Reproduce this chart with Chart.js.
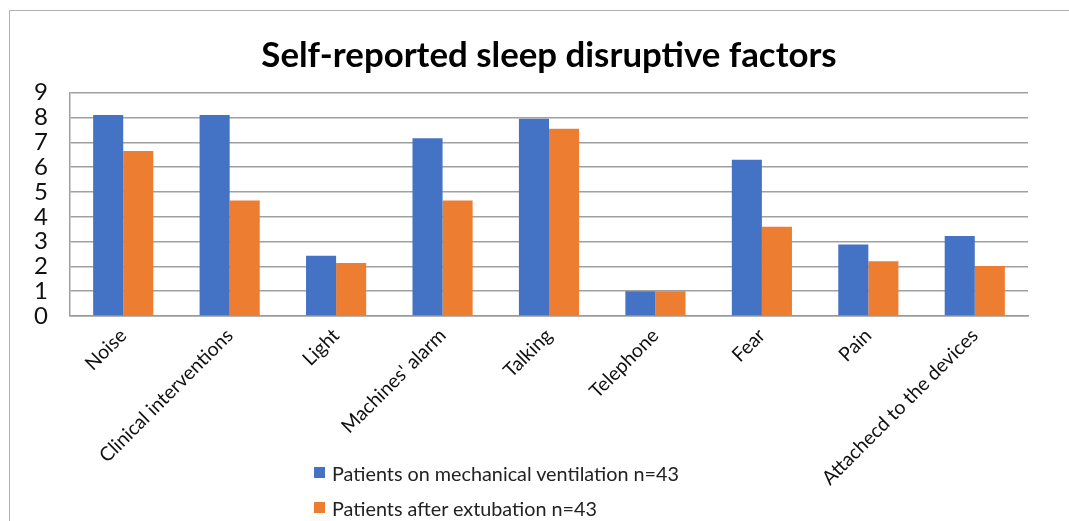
<!DOCTYPE html>
<html>
<head>
<meta charset="utf-8">
<script src="https://cdn.jsdelivr.net/npm/chart.js@4.4.1/dist/chart.umd.min.js"></script>
<style>
  html,body{margin:0;padding:0;background:#fff;}
  #wrap{position:relative;width:1069px;height:521px;overflow:hidden;}
  #frame{position:absolute;left:9px;top:10px;width:1100px;height:560px;border:1.5px solid #b0b0b0;box-sizing:border-box;}
  #legend{position:absolute;left:314px;top:455px;font:19.8px Lato,sans-serif;color:#222;}
  #legend div{display:flex;align-items:center;height:35px;}
  #legend span.sw{width:11px;height:11px;margin-right:7px;display:inline-block;}
</style>
</head>
<body>
<div id="wrap">
  <div id="frame"></div>
  <canvas id="c" width="1069" height="521"></canvas>
  <div id="legend"></div>
</div>
<script>
// --- data ---
const categories = ['Noise','Clinical interventions','Light',"Machines' alarm",'Talking','Telephone','Fear','Pain','Attachecd to the devices'];
const seriesNames = ['Patients on mechanical ventilation n=43','Patients after extubation n=43'];
const ventilation = [8.1, 8.1, 2.43, 7.17, 7.95, 1.0, 6.3, 2.88, 3.23];
const extubation  = [6.65, 4.66, 2.14, 4.66, 7.55, 1.0, 3.6, 2.21, 2.02];
const yTicks = [0,1,2,3,4,5,6,7,8,9];

const COLORS = ['#4472C4','#ED7D31'];
const FONT = "Lato, 'Open Sans', sans-serif";

const chart = new Chart(document.getElementById('c'), {
  type:'bar',
  data:{
    labels:categories,
    datasets:[
      { label:seriesNames[0], data:ventilation, backgroundColor:COLORS[0], categoryPercentage:0.565, barPercentage:1 },
      { label:seriesNames[1], data:extubation,  backgroundColor:COLORS[1], categoryPercentage:0.565, barPercentage:1 }
    ]
  },
  options:{
    responsive:false,
    animation:false,
    layout:{ padding:{ top:35, right:41, left:0, bottom:0 } },
    plugins:{
      legend:{ display:false },
      tooltip:{ enabled:false },
      title:{ display:true, fullSize:false, text:'Self-reported sleep disruptive factors',
        color:'#000', font:{ family:FONT, size:34.8, weight:'bold', lineHeight:1.2 },
        padding:{ top:0, bottom:16 } }
    },
    scales:{
      x:{
        grid:{ display:false, drawTicks:false },
        border:{ display:true, color:'#999', width:1.5 },
        ticks:{ color:'#111', font:{ family:FONT, size:19.5 }, minRotation:45, maxRotation:45, padding:8, autoSkip:false },
        afterFit(s){ s.height = 205; }
      },
      y:{
        min:0, max:9,
        afterBuildTicks(s){ s.ticks = yTicks.map(v=>({value:v})); },
        grid:{ color:'#a0a0a0', lineWidth:1.5, drawTicks:false },
        border:{ display:true, color:'#a0a0a0', width:1.5 },
        ticks:{ color:'#111', font:{ family:FONT, size:24, lineHeight:1 }, padding:22, autoSkip:false },
        afterFit(s){ s.width = 70; }
      }
    }
  }
});

// legend as plain text, stacked like the original
const lg = document.getElementById('legend');
seriesNames.forEach((n,i)=>{
  const row = document.createElement('div');
  row.innerHTML = `<span class="sw" style="background:${COLORS[i]}"></span>${n}`;
  lg.appendChild(row);
});
</script>
</body>
</html>
